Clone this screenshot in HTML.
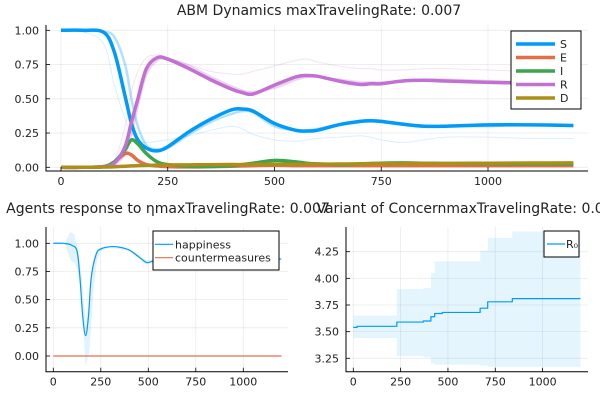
<!DOCTYPE html>
<html><head><meta charset="utf-8">
<style>
html,body{margin:0;padding:0;background:#fff;}
svg{display:block;font-family:"DejaVu Sans","Liberation Sans",sans-serif;}
</style></head>
<body>
<svg id="c" width="600" height="400" viewBox="0 0 600 400">
<text x="319" y="15" font-size="14" text-anchor="middle" fill="#222">ABM Dynamics maxTravelingRate: 0.007</text>
<text x="168" y="213" font-size="14" text-anchor="middle" fill="#222">Agents response to ηmaxTravelingRate: 0.007</text>
<text x="469" y="213" font-size="14" text-anchor="middle" fill="#222">Variant of ConcernmaxTravelingRate: 0.007</text>
<g id="g1"></g>
<g id="g2"></g>
<g id="g3"></g>
</svg>
<script>
// ---- top chart data ----
const tX = [0,50,100,125,150,165,180,200,225,250,300,350,400,425,450,500,550,575,600,650,700,725,750,800,850,900,1000,1100,1200];
const sVals = [1,1,0.985,0.84,0.52,0.32,0.2,0.14,0.12,0.15,0.26,0.35,0.42,0.425,0.41,0.32,0.27,0.265,0.27,0.31,0.335,0.34,0.335,0.315,0.3,0.3,0.31,0.31,0.305];
const rVals = [0,0,0.005,0.03,0.15,0.33,0.5,0.72,0.8,0.79,0.72,0.64,0.57,0.545,0.535,0.6,0.66,0.67,0.665,0.63,0.605,0.61,0.61,0.63,0.635,0.63,0.62,0.615,0.62];
const eVals = [0,0,0.005,0.04,0.1,0.09,0.05,0.02,0.01,0.005,0.003,0.005,0.008,0.01,0.012,0.015,0.012,0.012,0.012,0.012,0.012,0.012,0.012,0.012,0.012,0.012,0.012,0.012,0.012];
const iVals = [0,0,0.005,0.04,0.13,0.2,0.17,0.1,0.04,0.02,0.008,0.006,0.012,0.02,0.03,0.05,0.04,0.03,0.025,0.02,0.025,0.028,0.03,0.032,0.03,0.028,0.026,0.025,0.025];
const dVals = [0,0,0.002,0.004,0.008,0.01,0.012,0.014,0.016,0.017,0.018,0.019,0.02,0.02,0.021,0.022,0.022,0.023,0.023,0.024,0.025,0.025,0.026,0.027,0.028,0.028,0.03,0.031,0.032];
const sFaint1 = [1,1,0.99,0.95,0.75,0.5,0.3,0.16,0.13,0.14,0.24,0.33,0.39,0.41,0.4,0.3,0.27,0.27,0.28,0.31,0.33,0.335,0.33,0.31,0.3,0.3,0.3,0.31,0.3];
const sFaint2 = [1,0.99,0.9,0.6,0.35,0.25,0.2,0.18,0.19,0.2,0.23,0.27,0.3,0.28,0.24,0.2,0.19,0.2,0.21,0.22,0.23,0.22,0.2,0.18,0.2,0.22,0.22,0.21,0.21];
const rFaint1 = [0,0,0.01,0.05,0.3,0.55,0.7,0.8,0.82,0.8,0.75,0.7,0.68,0.68,0.7,0.74,0.78,0.79,0.77,0.74,0.72,0.72,0.71,0.71,0.72,0.72,0.71,0.7,0.7];
const rFaint2 = [0,0,0.005,0.02,0.1,0.25,0.45,0.68,0.78,0.79,0.74,0.66,0.59,0.56,0.55,0.58,0.64,0.66,0.66,0.64,0.62,0.62,0.62,0.63,0.64,0.64,0.63,0.62,0.62];
const topYTicks = [0,0.25,0.5,0.75,1.0];
const topYLabels = ["0.00","0.25","0.50","0.75","1.00"];
const xTicks = [0,250,500,750,1000];
const xLabels = ["0","250","500","750","1000"];
// ---- bottom-left data ----
const hX = [0,50,75,100,125,140,155,170,185,200,225,250,300,350,400,450,490,520,560,700,900,1100,1200];
const hVals = [1,1,0.995,0.98,0.93,0.7,0.35,0.18,0.35,0.7,0.9,0.95,0.97,0.965,0.94,0.88,0.83,0.84,0.86,0.86,0.86,0.86,0.86];
const bX = [0,60,90,110,130,150,170,190,210,230,250,300,400,490,560];
const bUpper = [1,1,1.1,1.08,0.95,0.7,0.3,0.5,0.85,0.95,0.96,0.975,0.95,0.85,0.87];
const bLower = [1,1,0.85,0.83,0.75,0.5,-0.1,0.05,0.55,0.85,0.93,0.965,0.93,0.81,0.84];
const cmX = [0,1200];
const cmVals = [0,0];
const leftYTicks = [0,0.25,0.5,0.75,1.0];
const leftYLabels = ["0.00","0.25","0.50","0.75","1.00"];
// ---- bottom-right data ----
const r0X = [0,20,230,370,410,430,470,670,710,840,1200];
const r0Vals = [3.54,3.55,3.59,3.60,3.64,3.67,3.68,3.72,3.78,3.81,3.81];
const r0Lower = [3.44,3.44,3.27,3.26,3.2,3.19,3.19,3.18,3.17,3.17,3.17];
const r0Upper = [3.65,3.65,3.9,3.91,4.05,4.16,4.16,4.26,4.38,4.44,4.44];
const rightYTicks = [3.25,3.5,3.75,4.0,4.25];
const rightYLabels = ["3.25","3.50","3.75","4.00","4.25"];

const NS="http://www.w3.org/2000/svg";
function mk(parent,tag,attrs){const e=document.createElementNS(NS,tag);for(const k in attrs)e.setAttribute(k,attrs[k]);parent.appendChild(e);return e;}
function poly(xs,ys,fx,fy){return xs.map((x,i)=>(i?'L':'M')+fx(x).toFixed(2)+' '+fy(ys[i]).toFixed(2)).join(' ');}
function smooth(xs,ys,fx,fy){
  const p=xs.map((x,i)=>[fx(x),fy(ys[i])]);let d='M'+p[0][0]+' '+p[0][1];
  for(let i=0;i<p.length-1;i++){const p0=p[i-1]||p[i],p1=p[i],p2=p[i+1],p3=p[i+2]||p2;
    const c1=[p1[0]+(p2[0]-p0[0])/6,p1[1]+(p2[1]-p0[1])/6],c2=[p2[0]-(p3[0]-p1[0])/6,p2[1]-(p3[1]-p1[1])/6];
    d+=` C${c1[0].toFixed(2)} ${c1[1].toFixed(2)} ${c2[0].toFixed(2)} ${c2[1].toFixed(2)} ${p2[0].toFixed(2)} ${p2[1].toFixed(2)}`;}
  return d;}
function stepPath(xs,ys,fx,fy){let d='';xs.forEach((x,i)=>{if(i===0)d='M'+fx(x)+' '+fy(ys[0]);else d+=' L'+fx(x)+' '+fy(ys[i-1])+' L'+fx(x)+' '+fy(ys[i]);});return d;}
function axes(g,o){
  o.xt.forEach(v=>{const l=mk(g,'line',{x1:o.fx(v),x2:o.fx(v),y1:o.top,y2:o.bot,stroke:'#000','stroke-opacity':0.08,'stroke-width':0.8});
    
    });
  o.yt.forEach(v=>{const l=mk(g,'line',{x1:o.left,x2:o.right,y1:o.fy(v),y2:o.fy(v),stroke:'#000','stroke-opacity':0.08,'stroke-width':0.8});
    
    });
}
function frame(g,o){
  const a=mk(g,'path',{d:`M${o.left} ${o.top} L${o.left} ${o.bot} L${o.right} ${o.bot}`,fill:'none',stroke:'#000','stroke-width':1});
  
  
  o.xt.forEach((v,i)=>{const t=mk(g,'line',{x1:o.fx(v),x2:o.fx(v),y1:o.bot,y2:o.bot-4,stroke:'#000','stroke-width':0.8});
    
    
    const tx=mk(g,'text',{x:o.fx(v),y:o.bot+14,'font-size':11,'text-anchor':'middle',fill:'#222'});tx.textContent=o.xl[i];
    
    });
  o.yt.forEach((v,i)=>{const t=mk(g,'line',{x1:o.left,x2:o.left+4,y1:o.fy(v),y2:o.fy(v),stroke:'#000','stroke-width':0.8});
    
    
    const tx=mk(g,'text',{x:o.left-7,y:o.fy(v)+4,'font-size':11,'text-anchor':'end',fill:'#222'});tx.textContent=o.yl[i];
    
    });
}
function line(g,d,col,w,op,name){const p=mk(g,'path',{d:d,fill:'none',stroke:col,'stroke-width':w,'stroke-opacity':op,'stroke-linejoin':'round'});
  
  return p;}

// ---- top ----
const g1=document.getElementById('g1');
const o1={left:46,right:588,top:25,bot:171,fx:v=>61+v*0.427,fy:v=>167.3-v*137,xt:xTicks,xl:xLabels,yt:topYTicks,yl:topYLabels};
axes(g1,o1);
const C={S:'#009af9',E:'#e26f46',I:'#3da44d',R:'#c271d2',D:'#ac8e18'};
line(g1,smooth(tX,sFaint2,o1.fx,o1.fy),C.S,1,0.15,'s-replicate');
line(g1,smooth(tX,sFaint1,o1.fx,o1.fy),C.S,2.5,0.3,'s-replicate');
line(g1,smooth(tX,rFaint1,o1.fx,o1.fy),C.R,1,0.2,'r-replicate');
line(g1,smooth(tX,rFaint2,o1.fx,o1.fy),C.R,2.5,0.3,'r-replicate');
line(g1,smooth(tX,sVals,o1.fx,o1.fy),C.S,3.5,1,'s-line');
line(g1,smooth(tX,eVals,o1.fx,o1.fy),C.E,3.5,1,'e-line');
line(g1,smooth(tX,iVals,o1.fx,o1.fy),C.I,3.5,1,'i-line');
line(g1,smooth(tX,rVals,o1.fx,o1.fy),C.R,3.5,1,'r-line');
line(g1,smooth(tX,dVals,o1.fx,o1.fy),C.D,3.5,1,'d-line');
frame(g1,o1);
(function(){const lg=mk(g1,'g',{});
  mk(lg,'rect',{x:511,y:31,width:70,height:78,fill:'#fff',stroke:'#000','stroke-width':1});
  const names=['S','E','I','R','D'],ys=[44,57.5,71,84.5,98];
  names.forEach((n,i)=>{const l=mk(lg,'line',{x1:516,x2:555,y1:ys[i],y2:ys[i],stroke:C[n],'stroke-width':3.5});
    
    
    const t=mk(lg,'text',{x:560,y:ys[i]+4,'font-size':11,fill:'#222'});t.textContent=n;
    
    });})();

// ---- bottom-left ----
const g2=document.getElementById('g2');
const o2={left:46,right:288,top:227,bot:371.7,fx:v=>53.3+v*0.19,fy:v=>356-v*112.7,xt:xTicks,xl:xLabels,yt:leftYTicks,yl:leftYLabels};
axes(g2,o2);
(function(){const d=poly(bX,bUpper,o2.fx,o2.fy)+' '+poly(bX.slice().reverse(),bLower.slice().reverse(),o2.fx,o2.fy).replace('M','L')+' Z';
  const p=mk(g2,'path',{d:d,fill:C.S,'fill-opacity':0.12,stroke:'none'});})();
line(g2,smooth(hX,hVals,o2.fx,o2.fy),C.S,1.2,1,'happiness-line');
line(g2,poly(cmX,cmVals,o2.fx,o2.fy),C.E,1.2,1,'countermeasures-line');
frame(g2,o2);
(function(){const lg=mk(g2,'g',{});
  mk(lg,'rect',{x:153,y:231,width:126,height:39,fill:'#fff',stroke:'#000','stroke-width':1});
  [['happiness',C.S,244.3],['countermeasures',C.E,257.7]].forEach(e=>{const l=mk(lg,'line',{x1:155,x2:173,y1:e[2],y2:e[2],stroke:e[1],'stroke-width':1.2});
    
    
    const t=mk(lg,'text',{x:175,y:e[2]+4,'font-size':11,fill:'#222'});t.textContent=e[0];
    
    });})();

// ---- bottom-right ----
const g3=document.getElementById('g3');
const o3={left:346,right:588,top:227,bot:371.7,fx:v=>353.3+v*0.1893,fy:v=>251.7-(v-4.25)*106.6,xt:xTicks,xl:xLabels,yt:rightYTicks,yl:rightYLabels};
axes(g3,o3);
(function(){const up=stepPath(r0X,r0Upper,o3.fx,o3.fy);
  let lo='';for(let i=r0X.length-1;i>=0;i--){lo+=' L'+o3.fx(r0X[i])+' '+o3.fy(r0Lower[i]);if(i>0)lo+=' L'+o3.fx(r0X[i])+' '+o3.fy(r0Lower[i-1]);}
  const p=mk(g3,'path',{d:up+lo+' Z',fill:C.S,'fill-opacity':0.1,stroke:'none'});})();
line(g3,stepPath(r0X,r0Vals,o3.fx,o3.fy),C.S,1.2,1,'r0-line');
frame(g3,o3);
(function(){const lg=mk(g3,'g',{});
  mk(lg,'rect',{x:544,y:231,width:35,height:26,fill:'#fff',stroke:'#000','stroke-width':1});
  const l=mk(lg,'line',{x1:547,x2:565,y1:244,y2:244,stroke:C.S,'stroke-width':1.2});
  
  
  const t=mk(lg,'text',{x:566,y:248,'font-size':11,fill:'#222'});t.textContent='R₀';
  
  })();
</script>
</body></html>
